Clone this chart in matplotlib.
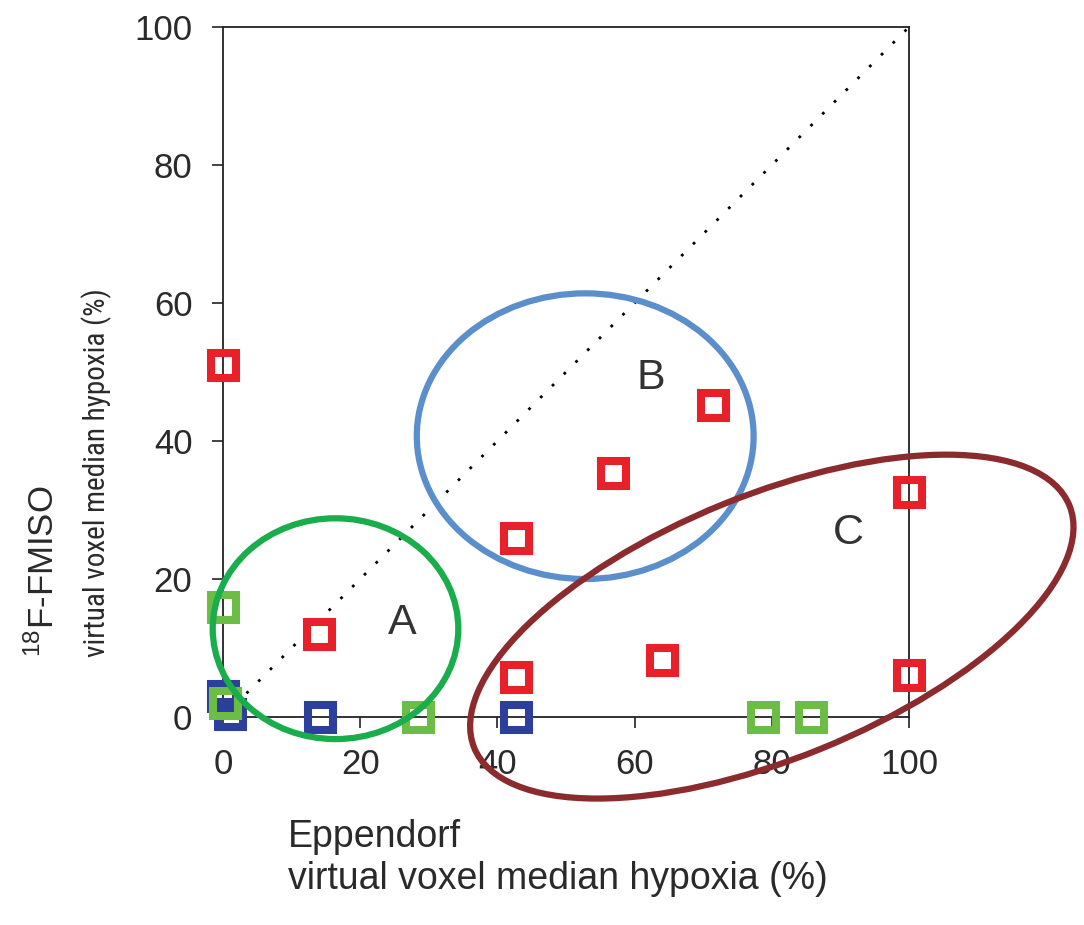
import matplotlib
matplotlib.use('Agg')
import matplotlib.pyplot as plt
from matplotlib.patches import Ellipse

plt.rcParams['font.family'] = ['Liberation Sans', 'DejaVu Sans']

# hypoxia fractions (%), Eppendorf vs 18F-FMISO
red_x = [0, 14, 42.7, 42.7, 56.8, 64, 71.5, 100, 100]
red_y = [51, 12, 25.9, 5.8, 35.3, 8.3, 45.2, 32.6, 6.1]
green_x = [0, 0.3, 28.4, 78.7, 85.7]
green_y = [15.9, 2, 0, 0, 0]
blue_x = [0, 1, 14.1, 42.7]
blue_y = [3, 0.5, 0, 0]

identity = [0, 100]
ticks = [0, 20, 40, 60, 80, 100]

# group outlines: label, centre, width, height, angle, colour
groups = ['A', 'B', 'C']
group_xy = [(16.4, 12.8), (52.8, 40.7), (80.0, 13.1)]
group_w = [35.8, 49.1, 93.6]
group_h = [32.0, 41.4, 38.2]
group_ang = [0, 0, 22]
group_col = ['#1aad4b', '#5b8fcb', '#8b2b2e']
label_xy = [(26.2, 13.6), (62.3, 49.1), (91.1, 26.6)]

fig = plt.figure(figsize=(10.84, 9.25), dpi=100)
ax = fig.add_axes([223/1084, 1 - 717/925, 686/1084, 690/925])

ax.plot(identity, identity, color='black', lw=2, linestyle=(0, (1, 5)), zorder=2)

mk = dict(marker='s', ms=18, mew=5.8, mfc='none', linestyle='none', clip_on=False, zorder=4)
ax.plot(blue_x, blue_y, mec='#2c3f9c', **mk)
ax.plot(green_x, green_y, mec='#6cbd45', **mk)
ax.plot(red_x, red_y, mec='#e8202a', **mk)

for g, xy, w, h, a, c, lxy in zip(groups, group_xy, group_w, group_h, group_ang, group_col, label_xy):
    ax.add_patch(Ellipse(xy, w, h, angle=a, fill=False, ec=c, lw=4.5, clip_on=False, zorder=5))
    ax.text(lxy[0], lxy[1], g, fontsize=31, color='#333333', ha='center', va='center')

ax.set_xlim(0, 100)
ax.set_ylim(0, 100)
ax.set_xticks(ticks)
ax.set_yticks(ticks)
ax.tick_params(direction='out', length=8, width=1.2, pad=14, labelsize=25,
               labelcolor='#2a2a2a', color='#222222')
for s in ax.spines.values():
    s.set_linewidth(1.3)
    s.set_color('#222222')

fig.text(288/1084, 1 - 819/925, 'Eppendorf\nvirtual voxel median hypoxia (%)',
         fontsize=27, color='#2a2a2a', ha='left', va='top', linespacing=1.22)

# y label, second line set in a narrow face
fig.text(54/1084, 1 - 657/925, r'$\mathregular{^{18}}$F-FMISO',
         fontsize=25, color='#2a2a2a', rotation=90,
         rotation_mode='anchor', ha='left', va='baseline')
fig.text(105/1084, 1 - 657/925, 'virtual voxel median hypoxia (%)',
         family=['Roboto Condensed', 'Liberation Sans'], fontstretch='condensed',
         fontsize=21, color='#2a2a2a', rotation=90,
         rotation_mode='anchor', ha='left', va='baseline')

fig.savefig('out.png', dpi=100)
